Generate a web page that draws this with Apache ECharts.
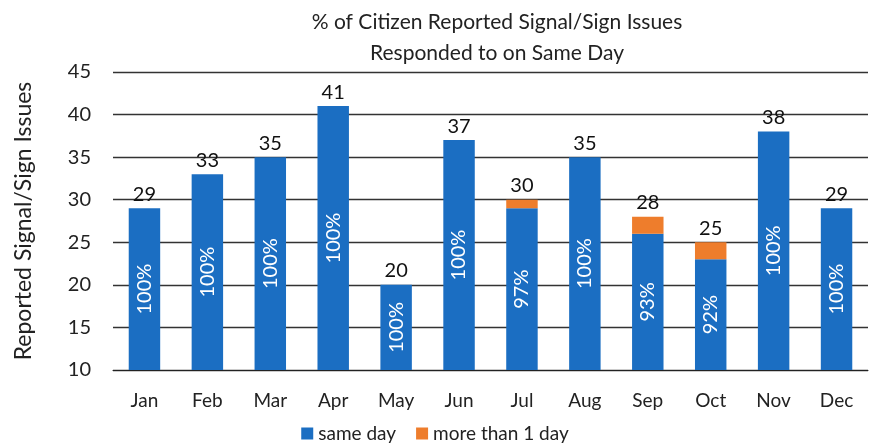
<!DOCTYPE html>
<html>
<head>
<meta charset="utf-8">
<script src="https://cdn.jsdelivr.net/npm/echarts@6/dist/echarts.min.js"></script>
<style>
  html, body {margin: 0; padding: 0; background: #fff;}
  #chart {width: 870px; height: 446px;}
</style>
</head>
<body>
<div id="chart"></div>
<script>
const months = ['Jan', 'Feb', 'Mar', 'Apr', 'May', 'Jun', 'Jul', 'Aug', 'Sep', 'Oct', 'Nov', 'Dec'];
const sameDay = [29, 33, 35, 41, 20, 37, 29, 35, 26, 23, 38, 29];
const moreThanOneDay = [0, 0, 0, 0, 0, 0, 1, 0, 2, 2, 0, 0];
const yTicks = {min: 10, max: 45, interval: 5};

const font = 'Lato';
const totals = sameDay.map((v, i) => v + moreThanOneDay[i]);

const chart = echarts.init(document.getElementById('chart'));
chart.setOption({
    animation: false,
    title: {
        text: '% of Citizen Reported Signal/Sign Issues\nResponded to on Same Day',
        left: 492,
        textAlign: 'center',
        top: 2,
        textStyle: {color: '#222', fontSize: 21, fontWeight: 'normal', fontFamily: font, lineHeight: 31},
    },
    legend: {
        bottom: -2,
        left: 'center',
        itemWidth: 12,
        itemHeight: 12,
        itemGap: 20,
        icon: 'rect',
        textStyle: {color: '#222', fontSize: 19, fontFamily: font},
        data: ['same day', 'more than 1 day'],
    },
    grid: {left: 113, right: 2, top: 72, bottom: 76},
    xAxis: {
        type: 'category',
        data: months,
        axisLine: {lineStyle: {color: '#222'}},
        axisTick: {show: false},
        axisLabel: {color: '#222', fontSize: 19, fontFamily: font, margin: 21},
    },
    yAxis: {
        type: 'value',
        min: yTicks.min,
        max: yTicks.max,
        interval: yTicks.interval,
        name: 'Reported Signal/Sign Issues',
        nameLocation: 'middle',
        nameGap: 78,
        nameTextStyle: {color: '#222', fontSize: 23, fontFamily: font},
        axisLine: {show: false},
        axisTick: {show: false},
        axisLabel: {color: '#222', fontSize: 20, fontFamily: font, margin: 22},
        splitLine: {lineStyle: {color: '#333', width: 1.4}},
    },
    series: [
        {
            name: 'same day',
            type: 'bar',
            stack: 'all',
            barWidth: '50%',
            data: sameDay,
            itemStyle: {color: '#1b6ec2'},
            label: {
                show: true,
                position: 'inside',
                rotate: 90,
                color: '#fff',
                fontSize: 20,
                fontFamily: font,
                formatter: (p) => Math.round(p.value / totals[p.dataIndex] * 100) + '%',
            },
        },
        {
            name: 'more than 1 day',
            type: 'bar',
            stack: 'all',
            barWidth: '50%',
            data: moreThanOneDay,
            itemStyle: {color: '#ee7d2c'},
            label: {
                show: true,
                position: 'top',
                distance: 4,
                color: '#111',
                fontSize: 20,
                fontFamily: font,
                formatter: (p) => totals[p.dataIndex],
            },
        },
    ],
});
</script>
</body>
</html>
